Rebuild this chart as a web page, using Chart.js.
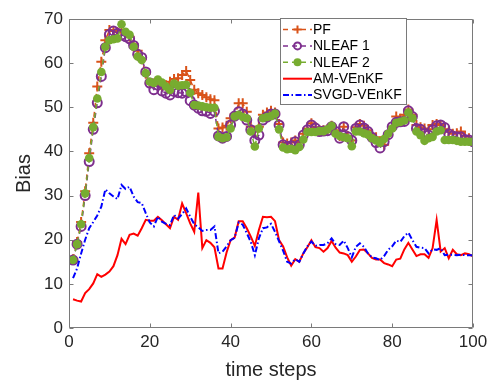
<!DOCTYPE html>
<html>
<head>
<meta charset="utf-8">
<script src="https://cdn.jsdelivr.net/npm/chart.js@4.4.0/dist/chart.umd.min.js"></script>
<style>
    html, body { margin: 0; padding: 0; background: #fff; }
    #wrap { width: 498px; height: 382px; }
</style>
</head>
<body>
<div id="wrap"><canvas id="biasChart" width="498" height="382"></canvas></div>
<script>
// time steps 1..100 on the x axis
const timeSteps = Array.from({ length: 100 }, (_, i) => i + 1);

const seriesNames = ['PF', 'NLEAF 1', 'NLEAF 2', 'AM-VEnKF', 'SVGD-VEnKF'];

const pfBias = [
    15.6, 19.5, 24.0, 31.0, 39.6, 46.5, 54.7, 60.3, 65.2, 67.5,
    67.3, 67.0, 67.5, 66.8, 66.0, 64.3, 62.8, 60.9, 57.6, 55.4,
    55.4, 55.4, 54.7, 55.0, 55.8, 56.4, 56.6, 57.3, 58.2, 56.2,
    54.0, 53.2, 52.8, 52.3, 51.8, 51.6, 45.2, 45.4, 45.8, 47.5,
    47.9, 50.9, 50.9, 49.0, 45.6, 44.5, 45.6, 48.3, 48.8, 49.2,
    48.8, 46.2, 42.0, 41.8, 42.0, 42.5, 42.0, 44.0, 45.2, 46.4,
    45.5, 44.8, 44.8, 45.0, 45.8, 44.8, 43.5, 45.6, 43.5, 42.5,
    45.5, 46.2, 45.8, 44.8, 43.8, 43.2, 42.2, 41.5, 43.8, 45.6,
    47.9, 47.4, 48.3, 49.5, 48.3, 46.0, 45.5, 45.2, 45.0, 46.0,
    46.2, 46.0, 45.0, 44.5, 44.0, 44.1, 44.5, 43.5, 43.0, 42.8
];

const nleaf1Bias = [
    15.4, 19.0, 23.0, 30.0, 37.7, 45.0, 51.0, 57.0, 63.5, 66.5,
    67.3, 66.8, 66.4, 66.0, 65.5, 64.0, 62.0, 61.3, 58.0, 55.5,
    54.0, 55.0, 53.7, 53.2, 52.8, 53.6, 53.3, 53.2, 53.5, 51.5,
    50.5, 49.8, 49.2, 49.1, 48.6, 49.1, 43.5, 43.0, 43.4, 46.0,
    48.0, 49.0, 48.5, 47.1, 44.9, 42.5, 43.7, 47.1, 47.8, 48.5,
    48.5, 46.0, 41.5, 41.1, 41.3, 42.2, 41.5, 43.7, 44.9, 46.0,
    45.3, 44.5, 44.6, 44.7, 45.6, 44.5, 43.0, 45.6, 43.3, 42.5,
    45.2, 46.0, 45.3, 44.5, 43.2, 42.0, 40.8, 42.2, 43.8, 45.6,
    46.6, 46.7, 46.8, 49.2, 47.9, 45.2, 45.0, 44.1, 43.7, 44.9,
    45.8, 46.0, 45.4, 44.0, 43.5, 43.3, 43.3, 42.7, 42.6, 42.2
];

const nleaf2Bias = [
    15.4, 19.0, 23.5, 30.5, 38.5, 45.5, 52.0, 58.0, 63.7, 65.2,
    65.4, 65.6, 68.8, 67.1, 66.4, 63.7, 61.5, 60.7, 57.7, 55.8,
    55.5, 56.3, 55.6, 54.7, 53.9, 55.4, 54.9, 55.0, 55.1, 53.3,
    50.5, 50.4, 50.2, 50.0, 49.9, 49.9, 43.3, 43.0, 43.2, 45.2,
    47.9, 48.3, 47.8, 47.5, 44.5, 41.1, 45.2, 47.5, 47.8, 48.0,
    48.6, 45.0, 40.9, 40.5, 40.6, 40.3, 41.0, 42.7, 44.4, 44.4,
    44.4, 44.6, 44.6, 45.0, 45.8, 44.0, 43.5, 43.2, 43.0, 41.2,
    44.5, 44.5, 44.1, 43.8, 43.0, 42.5, 41.9, 42.8, 44.0, 45.2,
    46.5, 46.7, 47.0, 48.8, 47.5, 44.5, 43.7, 42.4, 43.0, 43.3,
    44.5, 44.8, 42.6, 42.6, 42.6, 42.4, 42.2, 42.2, 42.2, 42.2
];

const amBias = [
    6.5, 6.2, 6.0, 7.9, 8.8, 10.1, 12.2, 11.6, 12.1, 12.8,
    14.0, 16.5, 20.2, 19.0, 21.1, 21.4, 20.9, 22.6, 24.5, 24.3,
    24.3, 25.2, 24.4, 23.5, 22.6, 25.2, 24.5, 28.2, 26.0, 23.7,
    21.8, 30.7, 18.1, 19.9, 19.3, 18.3, 13.5, 13.5, 17.1, 19.9,
    20.5, 24.2, 24.2, 22.6, 20.7, 18.6, 22.2, 25.2, 25.1, 25.2,
    24.2, 19.9, 18.5, 16.0, 14.1, 15.6, 15.0, 16.9, 18.3, 19.9,
    18.3, 18.1, 17.3, 18.1, 19.7, 18.2, 17.1, 16.9, 16.5, 15.0,
    16.2, 17.7, 17.8, 16.9, 15.9, 15.5, 15.5, 14.7, 14.4, 14.0,
    15.5, 15.7, 17.8, 19.3, 17.8, 16.3, 16.7, 16.7, 15.9, 18.1,
    24.5, 17.3, 18.1, 15.8, 17.7, 16.7, 16.5, 16.9, 16.7, 16.2
];

const svgdBias = [
    11.3, 13.5, 16.9, 20.0, 22.6, 24.0, 25.5, 27.5, 31.4, 30.5,
    29.8, 29.2, 32.4, 31.5, 32.0, 29.8, 28.5, 28.3, 26.0, 23.9,
    23.0, 25.2, 24.1, 23.6, 23.3, 25.6, 24.8, 25.8, 27.1, 25.2,
    23.5, 22.8, 22.0, 22.2, 22.2, 23.0, 16.9, 17.3, 18.5, 19.9,
    20.4, 23.9, 23.4, 21.5, 19.5, 16.5, 20.3, 22.6, 22.8, 23.6,
    21.8, 19.6, 17.5, 15.0, 14.6, 15.6, 15.0, 16.9, 18.5, 19.6,
    18.6, 18.8, 18.8, 19.2, 20.3, 19.0, 18.8, 19.8, 18.1, 16.0,
    18.4, 19.2, 18.4, 16.9, 16.0, 15.8, 15.4, 16.3, 17.7, 18.5,
    19.8, 19.5, 20.8, 21.6, 19.9, 18.4, 18.2, 18.1, 16.9, 17.8,
    17.7, 18.1, 16.5, 16.6, 16.6, 16.5, 16.6, 16.5, 16.5, 16.5
];

const xTickValues = [0, 20, 40, 60, 80, 100];
const yTickValues = [0, 10, 20, 30, 40, 50, 60, 70];

// MATLAB-ish colours
const colors = {
    pf: '#D95319',
    nleaf1: '#7E2F8E',
    nleaf2: '#77AC30',
    am: '#FF0000',
    svgd: '#0000FF'
};
const axisColor = '#262626';
const frameColor = '#7a7a7a';

function toPoints(values) {
    return values.map((v, i) => ({ x: timeSteps[i], y: v }));
}

// Legend entries: line style + marker
const legendItems = [
    { text: seriesNames[0], color: colors.pf, dash: [5, 4], width: 1.5, marker: 'cross' },
    { text: seriesNames[1], color: colors.nleaf1, dash: [5, 4], width: 1.5, marker: 'ring' },
    { text: seriesNames[2], color: colors.nleaf2, dash: [5, 4], width: 1.5, marker: 'dot' },
    { text: seriesNames[3], color: colors.am, dash: [], width: 2, marker: null },
    { text: seriesNames[4], color: colors.svgd, dash: [6, 2.5, 1.5, 2.5], width: 2, marker: null }
];

// Draw box frame with inward ticks, like MATLAB "box on"
const boxTicks = {
    id: 'boxTicks',
    afterDraw(chart) {
        const { ctx, chartArea: a, scales } = chart;
        const L = Math.round(a.left) + 0.5, R = Math.round(a.right) - 0.5;
        const T = Math.round(a.top) + 0.5, B = Math.round(a.bottom) - 0.5;
        const len = 4;
        ctx.save();
        ctx.strokeStyle = frameColor;
        ctx.lineWidth = 1;
        ctx.beginPath();
        ctx.rect(L, T, R - L, B - T);
        xTickValues.forEach(v => {
            const px = Math.round(scales.x.getPixelForValue(v)) + 0.5;
            ctx.moveTo(px, B); ctx.lineTo(px, B - len);
            ctx.moveTo(px, T); ctx.lineTo(px, T + len);
        });
        yTickValues.forEach(v => {
            const py = Math.round(scales.y.getPixelForValue(v)) + 0.5;
            ctx.moveTo(L, py); ctx.lineTo(L + len, py);
            ctx.moveTo(R, py); ctx.lineTo(R - len, py);
        });
        ctx.stroke();
        ctx.restore();
    }
};

const boxLegend = {
    id: 'boxLegend',
    afterDraw(chart) {
        const ctx = chart.ctx;
        const left = 280.5, top = 18.5, w = 126, h = 86;
        const rowStart = 29.5, rowStep = 16.4;
        ctx.save();
        ctx.fillStyle = '#fff';
        ctx.fillRect(left, top, w, h);
        ctx.strokeStyle = frameColor;
        ctx.lineWidth = 1;
        ctx.strokeRect(left, top, w, h);
        ctx.font = '14px "Liberation Sans", Arial, sans-serif';
        ctx.textBaseline = 'middle';
        legendItems.forEach((item, i) => {
            const y = rowStart + i * rowStep;
            ctx.strokeStyle = item.color;
            ctx.lineWidth = item.width;
            ctx.setLineDash(item.dash);
            ctx.beginPath();
            ctx.moveTo(283, y);
            ctx.lineTo(312, y);
            ctx.stroke();
            ctx.setLineDash([]);
            const mx = 297.5;
            if (item.marker === 'cross') {
                ctx.lineWidth = 2;
                ctx.beginPath();
                ctx.moveTo(mx - 4, y); ctx.lineTo(mx + 4, y);
                ctx.moveTo(mx, y - 4); ctx.lineTo(mx, y + 4);
                ctx.stroke();
            } else if (item.marker === 'ring') {
                ctx.lineWidth = 2;
                ctx.beginPath();
                ctx.arc(mx, y, 3.5, 0, Math.PI * 2);
                ctx.stroke();
            } else if (item.marker === 'dot') {
                ctx.fillStyle = item.color;
                ctx.beginPath();
                ctx.arc(mx, y, 4, 0, Math.PI * 2);
                ctx.fill();
            }
            ctx.fillStyle = '#000';
            ctx.fillText(item.text, 313, y + 0.5);
        });
        ctx.restore();
    }
};

const ctx = document.getElementById('biasChart').getContext('2d');
const biasChart = new Chart(ctx, {
    type: 'line',
    data: {
        datasets: [
            {
                label: seriesNames[0],
                data: toPoints(pfBias),
                borderColor: colors.pf,
                borderWidth: 1.5,
                borderDash: [5, 4],
                pointStyle: 'cross',
                pointRadius: 5,
                pointBorderWidth: 2,
                pointBorderColor: colors.pf,
                order: 5
            },
            {
                label: seriesNames[1],
                data: toPoints(nleaf1Bias),
                borderColor: colors.nleaf1,
                borderWidth: 1.5,
                borderDash: [5, 4],
                pointStyle: 'circle',
                pointRadius: 4.5,
                pointBorderWidth: 2,
                pointBorderColor: colors.nleaf1,
                pointBackgroundColor: 'rgba(0,0,0,0)',
                order: 4
            },
            {
                label: seriesNames[2],
                data: toPoints(nleaf2Bias),
                borderColor: colors.nleaf2,
                borderWidth: 1.5,
                borderDash: [5, 4],
                pointStyle: 'circle',
                pointRadius: 4.3,
                pointBorderWidth: 0,
                pointBackgroundColor: colors.nleaf2,
                order: 3
            },
            {
                label: seriesNames[3],
                data: toPoints(amBias),
                borderColor: colors.am,
                borderWidth: 2,
                pointRadius: 0,
                order: 2
            },
            {
                label: seriesNames[4],
                data: toPoints(svgdBias),
                borderColor: colors.svgd,
                borderWidth: 2,
                borderDash: [6, 2.5, 1.5, 2.5],
                pointRadius: 0,
                order: 1
            }
        ]
    },
    options: {
        responsive: false,
        animation: false,
        devicePixelRatio: 1,
        layout: { padding: { left: 0, top: 19, right: 25, bottom: 0 } },
        plugins: {
            legend: { display: false },
            tooltip: { enabled: false }
        },
        elements: { line: { tension: 0 } },
        scales: {
            x: {
                type: 'linear',
                min: 0,
                max: 100,
                afterFit: s => { s.height = 54; },
                afterBuildTicks: s => { s.ticks = xTickValues.map(v => ({ value: v })); },
                grid: { display: false, drawTicks: false },
                border: { display: false },
                ticks: {
                    padding: 4,
                    color: axisColor,
                    font: { family: '"Liberation Sans", Arial, sans-serif', size: 17 }
                },
                title: {
                    display: true,
                    text: 'time steps',
                    color: axisColor,
                    padding: { top: 0, bottom: 0 },
                    font: { family: '"Liberation Sans", Arial, sans-serif', size: 20 }
                }
            },
            y: {
                min: 0,
                max: 70,
                afterFit: s => { s.width = 69; },
                afterBuildTicks: s => { s.ticks = yTickValues.map(v => ({ value: v })); },
                grid: { display: false, drawTicks: false },
                border: { display: false },
                ticks: {
                    padding: 6,
                    color: axisColor,
                    font: { family: '"Liberation Sans", Arial, sans-serif', size: 17 }
                },
                title: {
                    display: true,
                    text: 'Bias',
                    color: axisColor,
                    padding: { top: 12, bottom: 0 },
                    font: { family: '"Liberation Sans", Arial, sans-serif', size: 20 }
                }
            }
        }
    },
    plugins: [boxTicks, boxLegend]
});
</script>
</body>
</html>
